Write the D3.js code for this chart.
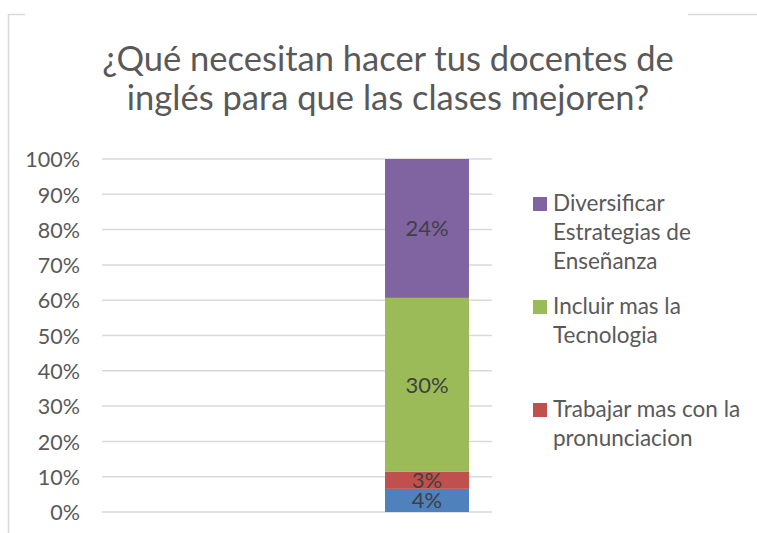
<!DOCTYPE html>
<html>
<head>
<meta charset="utf-8">
<script src="https://cdn.jsdelivr.net/npm/d3@7"></script>
<style>
  html, body { margin: 0; padding: 0; background: #fff; }
  svg { display: block; font-family: Lato, "Open Sans", sans-serif; }
</style>
</head>
<body>
<svg id="chart" width="757" height="533"></svg>
<script>
// Chart content
const titleLines = ["¿Qué necesitan hacer tus docentes de", "inglés para que las clases mejoren?"];
const categories = [1, 2, 3];
const seriesNames = [
  "Otros",
  "Trabajar mas con la pronunciacion",
  "Incluir mas la Tecnologia",
  "Diversificar Estrategias de Enseñanza"
];
const otrosValues = [0, 0, 4];
const pronunciacionValues = [0, 0, 3];
const tecnologiaValues = [0, 0, 30];
const estrategiasValues = [0, 0, 24];
const seriesColors = ["#4f81bd", "#c0504d", "#9bbb59", "#8064a2"];
const legendOrder = [3, 2, 1]; // entries listed in the legend, top to bottom
const yTicks = [0, 0.1, 0.2, 0.3, 0.4, 0.5, 0.6, 0.7, 0.8, 0.9, 1];

const seriesValues = [otrosValues, pronunciacionValues, tecnologiaValues, estrategiasValues];
const rows = categories.map((c, i) => {
  const r = { cat: c };
  seriesNames.forEach((s, k) => { r[s] = seriesValues[k][i]; });
  return r;
});

const svg = d3.select("#chart");
const textColor = "#595959";
const gridColor = "#d9d9d9";

// Outer frame fragments
svg.append("path")
  .attr("d", "M8.5,533 V14.5 H25 M688,14.5 H757")
  .attr("fill", "none")
  .attr("stroke", "#d9d9d9")
  .attr("stroke-width", 1.5);

// Title, sized so the first line fills its width
const title = svg.append("g").attr("fill", textColor);
const t1 = title.append("text").attr("x", 388).attr("y", 70.5)
  .attr("text-anchor", "middle").attr("font-size", 40).text(titleLines[0]);
const w = t1.node().getComputedTextLength();
const titleSize = 40 * 572 / w;
t1.attr("font-size", titleSize);
title.append("text").attr("x", 388).attr("y", 110)
  .attr("text-anchor", "middle").attr("font-size", titleSize).text(titleLines[1]);

// Scales
const plotLeft = 102, plotRight = 492, plotTop = 159, plotBottom = 512;
const x = d3.scaleBand().domain(categories).range([plotLeft, plotRight])
  .paddingInner(0.354).paddingOuter(0.177);
const y = d3.scaleLinear().domain([0, 1]).range([plotBottom, plotTop]);

// Gridlines
svg.append("g").selectAll("line").data(yTicks).join("line")
  .attr("x1", plotLeft).attr("x2", plotRight)
  .attr("y1", d => y(d)).attr("y2", d => y(d))
  .attr("stroke", gridColor).attr("stroke-width", 1.5);

// Y axis labels
const yAxis = d3.axisLeft(y).tickValues(yTicks).tickFormat(d3.format(".0%")).tickSize(0).tickPadding(0);
const ya = svg.append("g").attr("transform", "translate(80,0)").call(yAxis);
ya.select(".domain").remove();
ya.selectAll("text").attr("fill", textColor).attr("font-size", 21.5)
  .attr("font-family", "Lato, 'Open Sans', sans-serif").attr("dy", "0.36em");

// Stacked 100% columns
const stack = d3.stack().keys(seriesNames).offset(d3.stackOffsetExpand);
const layers = stack(rows);

const g = svg.append("g");
layers.forEach((layer, k) => {
  g.append("g").attr("fill", seriesColors[k])
    .selectAll("rect").data(layer.filter(d => d.data[seriesNames[k]] > 0)).join("rect")
    .attr("x", d => x(d.data.cat))
    .attr("width", x.bandwidth())
    .attr("y", d => y(d[1]))
    .attr("height", d => y(d[0]) - y(d[1]));
});

// Value labels
layers.forEach((layer, k) => {
  g.append("g").selectAll("text").data(layer.filter(d => d.data[seriesNames[k]] > 0)).join("text")
    .attr("x", d => x(d.data.cat) + x.bandwidth() / 2)
    .attr("y", d => (y(d[0]) + y(d[1])) / 2)
    .attr("dy", "0.36em")
    .attr("text-anchor", "middle")
    .attr("font-size", 22)
    .attr("fill", "#404040")
    .text(d => d.data[seriesNames[k]] + "%");
});

// Legend
const legend = svg.append("g").attr("transform", "translate(533,197)");
const maxLegendWidth = 200;
const lineHeight = 29;
legendOrder.forEach((k, i) => {
  const item = legend.append("g").attr("transform", `translate(0,${i * 103})`);
  item.append("rect").attr("width", 14).attr("height", 14).attr("fill", seriesColors[k]);
  const txt = item.append("text").attr("fill", textColor).attr("font-size", 22.5);
  // word wrap to the legend width
  const words = seriesNames[k].split(" ");
  let line = [];
  let lineNo = 0;
  let tspan = txt.append("tspan").attr("x", 20).attr("y", 14);
  words.forEach(wd => {
    line.push(wd);
    tspan.text(line.join(" "));
    if (tspan.node().getComputedTextLength() > maxLegendWidth && line.length > 1) {
      line.pop();
      tspan.text(line.join(" "));
      line = [wd];
      lineNo++;
      tspan = txt.append("tspan").attr("x", 20).attr("y", 14 + lineNo * lineHeight).text(wd);
    }
  });
});
</script>
</body>
</html>
